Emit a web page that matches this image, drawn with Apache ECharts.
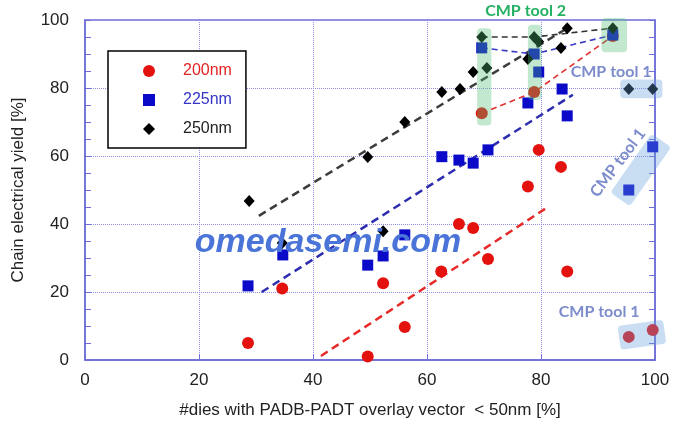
<!DOCTYPE html>
<html>
<head>
<meta charset="utf-8">
<script src="https://cdn.jsdelivr.net/npm/echarts@6/dist/echarts.min.js"></script>
<style>
  html, body { margin: 0; padding: 0; background: #fff; }
  #main { width: 678px; height: 432px; }
</style>
</head>
<body>
<div id="main"></div>
<script>
// tick labels
const xTicks = [0, 20, 40, 60, 80, 100];
const yTicks = [0, 20, 40, 60, 80, 100];

// measured points [x %, yield %]
const pts200 = [[28.6, 5], [34.6, 21], [49.6, 1], [52.3, 22.6], [56.1, 9.7], [62.5, 26], [65.6, 40], [68.1, 38.8],
  [70.7, 29.7], [69.6, 72.6], [78.8, 78.8], [79.6, 61.8], [77.7, 51], [83.5, 56.8], [84.6, 26], [92.6, 95.3],
  [95.4, 6.8], [99.6, 8.8]];
const pts225 = [[28.6, 21.8], [34.7, 30.9], [49.6, 27.9], [52.3, 30.6], [56.1, 36.8], [62.6, 59.8], [65.6, 58.8],
  [68.1, 57.9], [70.7, 61.8], [69.6, 91.8], [78.8, 90], [79.6, 84.7], [77.7, 75.6], [83.7, 79.7], [84.6, 71.8],
  [92.6, 95.6], [95.4, 50], [99.6, 62.7]];
const pts250 = [[28.8, 46.8], [34.6, 34.4], [49.6, 59.7], [52.3, 37.9], [56.1, 70], [62.6, 78.8], [65.8, 79.7],
  [68.1, 84.7], [70.5, 85.9], [69.6, 95], [77.7, 88.5], [78.8, 95], [79.6, 93.6], [83.5, 91.8], [84.6, 97.6],
  [92.6, 97.6], [95.4, 79.7], [99.6, 79.7]];

// fitted trend lines (end points)
const trend200 = [[41.4, 1.2], [81.2, 45]];
const trend225 = [[31, 20], [85.6, 78]];
const trend250 = [[30.5, 42.4], [85, 98]];

// CMP tool 2 links
const link200 = [[69.6, 72.6], [78.8, 78.8], [92.6, 95.3]];
const link225 = [[69.6, 91.8], [78.8, 90], [92.6, 95.6]];
const link250 = [[69.6, 95], [78.8, 95], [92.6, 97.6]];

const axisColor = '#6e6ed6';
const font = 'Arial, "Liberation Sans", sans-serif';

const chart = echarts.init(document.getElementById('main'));

function trend(data, color, w, dash) {
  return {
    type: 'line', data: data, symbol: 'none', silent: true, z: 1,
    lineStyle: { color: color, width: w, type: dash }
  };
}

const option = {
  animation: false,
  grid: { left: 85, right: 23, top: 20, bottom: 72, show: true, borderColor: axisColor, borderWidth: 1.5 },
  legend: {
    orient: 'vertical',
    left: 108, top: 51,
    padding: [12, 14, 11, 35],
    itemGap: 13,
    itemWidth: 12, itemHeight: 12,
    borderColor: '#000', borderWidth: 1.5,
    backgroundColor: '#fff',
    textStyle: { fontSize: 16, fontFamily: font, padding: [0, 0, 0, 23] },
    data: [
      { name: '200nm', icon: 'circle', textStyle: { color: '#e32222' } },
      { name: '225nm', icon: 'rect', textStyle: { color: '#3434c8' } },
      { name: '250nm', icon: 'diamond', textStyle: { color: '#222' } }
    ]
  },
  xAxis: {
    type: 'value',
    min: xTicks[0], max: xTicks[xTicks.length - 1], interval: xTicks[1] - xTicks[0],
    name: '#dies with PADB-PADT overlay vector  < 50nm [%]',
    nameLocation: 'middle', nameGap: 42,
    nameTextStyle: { fontSize: 17, color: '#222', fontFamily: font },
    axisLine: { show: true, lineStyle: { color: axisColor, width: 1.5 } },
    axisTick: { show: true, inside: true, length: 6, lineStyle: { color: axisColor } },
    axisLabel: { fontSize: 17, color: '#222', margin: 12, fontFamily: font },
    splitLine: { show: true, lineStyle: { type: 'dotted', color: '#8e8ee6', width: 1 } }
  },
  yAxis: [{
    type: 'value',
    min: yTicks[0], max: yTicks[yTicks.length - 1], interval: yTicks[1] - yTicks[0],
    name: 'Chain electrical yield [%]',
    nameLocation: 'middle', nameGap: 58,
    nameTextStyle: { fontSize: 17, color: '#222', fontFamily: font },
    axisLine: { show: true, lineStyle: { color: axisColor, width: 1.5 } },
    axisTick: { show: true, inside: true, length: 6, lineStyle: { color: axisColor } },
    minorTick: { show: true, splitNumber: 4, length: 6, lineStyle: { color: axisColor } },
    axisLabel: { fontSize: 17, color: '#222', margin: 16, fontFamily: font },
    splitLine: { show: true, lineStyle: { type: 'dotted', color: '#8e8ee6', width: 1 } }
  }, {
    type: 'value', position: 'right',
    min: yTicks[0], max: yTicks[yTicks.length - 1], interval: yTicks[1] - yTicks[0],
    axisLine: { show: true, lineStyle: { color: axisColor, width: 1.5 } },
    axisTick: { show: true, inside: true, length: 6, lineStyle: { color: axisColor } },
    minorTick: { show: true, splitNumber: 4, length: 6, lineStyle: { color: axisColor } },
    axisLabel: { show: false },
    splitLine: { show: false }
  }],
  series: [
    trend(trend250, '#3c3c3c', 2.5, [8, 5]),
    trend(trend225, '#2d2db0', 2.5, [8, 5]),
    trend(trend200, '#e62a2a', 2.5, [8, 5]),
    trend(link250, '#333', 1.6, [6, 4]),
    trend(link225, '#3a3ac4', 1.6, [6, 4]),
    trend(link200, '#e03030', 1.6, [6, 4]),
    { name: '200nm', type: 'scatter', data: pts200, symbol: 'circle', symbolSize: 12, z: 3,
      itemStyle: { color: '#e3120f', opacity: 1 } },
    { name: '225nm', type: 'scatter', data: pts225, symbol: 'rect', symbolSize: 11, z: 4,
      itemStyle: { color: '#0a0ac8', opacity: 1 } },
    { name: '250nm', type: 'scatter', data: pts250, symbol: 'diamond', symbolSize: [11, 12], z: 5,
      itemStyle: { color: '#000', opacity: 1 } }
  ]
};
chart.setOption(option);

// annotation overlays, placed from data coordinates
const px = (p) => chart.convertToPixel({ xAxisIndex: 0, yAxisIndex: 0 }, p);
const green = 'rgba(80,190,120,0.35)';
const blue = 'rgba(100,160,220,0.35)';

// [x0, x1, y0, y1]
const greenBoxes = [[68.8, 71.3, 69, 97.6], [77.7, 80.1, 76.5, 98.6], [90.6, 95.1, 90.5, 100.6]];
const blueBox = [93.9, 101.3, 77, 82.5];

const graphics = [];
greenBoxes.concat([blueBox]).forEach(function (b, i) {
  const a = px([b[0], b[3]]);
  const c = px([b[1], b[2]]);
  graphics.push({
    type: 'rect', z: 10, silent: true,
    shape: { x: a[0], y: a[1], width: c[0] - a[0], height: c[1] - a[1], r: 4 },
    style: { fill: i < 3 ? green : blue }
  });
});

// rotated boxes: [cx, cy, width px, height px, rotation deg]
[[97.5, 55.9, 72, 24, 55], [97.7, 7.4, 46, 24, 8]].forEach(function (b) {
  const c = px([b[0], b[1]]);
  graphics.push({
    type: 'rect', z: 10, silent: true,
    x: c[0], y: c[1], rotation: b[4] * Math.PI / 180,
    shape: { x: -b[2] / 2, y: -b[3] / 2, width: b[2], height: b[3], r: 4 },
    style: { fill: blue }
  });
});

// text notes: [text, cx, cy, rotation deg, color]
const notes = [
  ['CMP tool 2', 77.3, 102.6, 0, '#25b163'],
  ['CMP tool 1', 92.3, 84.7, 0, '#7c8ccc'],
  ['CMP tool 1', 93.5, 58, 53, '#7c8ccc'],
  ['CMP tool 1', 90.2, 14.1, 0, '#7c8ccc']
];
notes.forEach(function (n) {
  const c = px([n[1], n[2]]);
  graphics.push({
    type: 'text', z: 11, silent: true,
    x: c[0], y: c[1], rotation: n[3] * Math.PI / 180,
    style: {
      text: n[0], fill: n[4], font: 'bold 16px Lato, "Open Sans", sans-serif',
      align: 'center', verticalAlign: 'middle'
    }
  });
});

// site watermark
graphics.push({
  type: 'text', z: 20, silent: true,
  x: 328, y: 243,
  style: {
    text: 'omedasemi.com', fill: '#4a74d8',
    font: 'italic bold 34px Arial, "Liberation Sans", sans-serif',
    align: 'center', verticalAlign: 'middle'
  }
});

chart.setOption({ graphic: graphics });
</script>
</body>
</html>
